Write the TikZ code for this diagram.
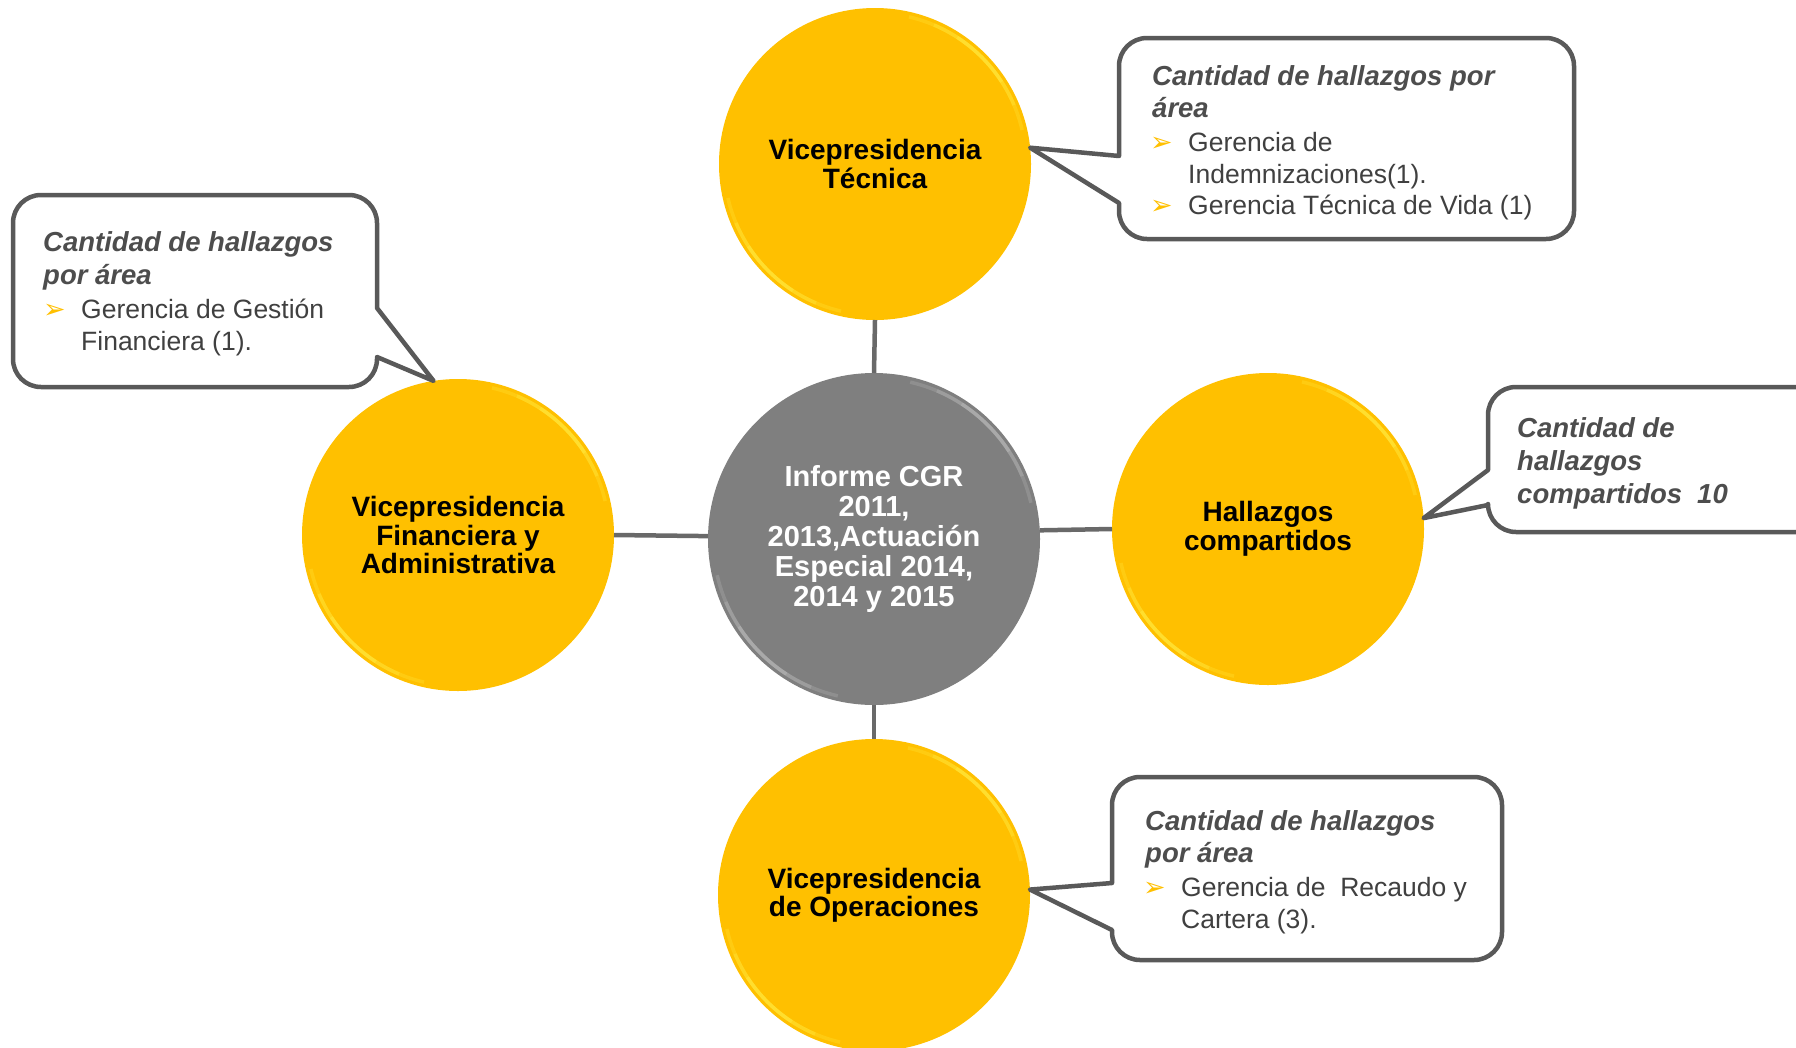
\documentclass[tikz,border=0pt]{standalone}
\usepackage{fontspec}
\setmainfont{Liberation Sans}
\newfontfamily\dejavu{DejaVu Sans}
\definecolor{yel}{RGB}{255,192,0}
\definecolor{yelrim}{RGB}{255,245,80}
\definecolor{grayc}{RGB}{127,127,127}
\definecolor{grayrim}{RGB}{200,200,200}
\definecolor{linec}{RGB}{105,105,105}
\definecolor{borderc}{RGB}{89,89,89}
\definecolor{headc}{RGB}{77,77,77}
\definecolor{itemc}{RGB}{64,64,64}
\newcommand{\rr}{28}
\newcommand{\kk}{12.5}
% pointer on the left side: x1,y1,x2,y2,joinA,joinB,tip
\newcommand{\bubbleleft}[7]{%
  \draw[bubble] (#1,#5) -- (#7) -- (#1,#6) -- (#1,{#4-\rr})
    .. controls (#1,{#4-\kk}) and ({#1+\kk},#4) .. ({#1+\rr},#4) -- ({#3-\rr},#4)
    .. controls ({#3-\kk},#4) and (#3,{#4-\kk}) .. (#3,{#4-\rr}) -- (#3,{#2+\rr})
    .. controls (#3,{#2+\kk}) and ({#3-\kk},#2) .. ({#3-\rr},#2) -- ({#1+\rr},#2)
    .. controls ({#1+\kk},#2) and (#1,{#2+\kk}) .. (#1,{#2+\rr}) -- cycle;}
% pointer on the right side
\newcommand{\bubbleright}[7]{%
  \draw[bubble] (#3,#5) -- (#7) -- (#3,#6) -- (#3,{#4-\rr})
    .. controls (#3,{#4-\kk}) and ({#3-\kk},#4) .. ({#3-\rr},#4) -- ({#1+\rr},#4)
    .. controls ({#1+\kk},#4) and (#1,{#4-\kk}) .. (#1,{#4-\rr}) -- (#1,{#2+\rr})
    .. controls (#1,{#2+\kk}) and ({#1+\kk},#2) .. ({#1+\rr},#2) -- ({#3-\rr},#2)
    .. controls ({#3-\kk},#2) and (#3,{#2+\kk}) .. (#3,{#2+\rr}) -- cycle;}
% soft rim highlight: node, mid angle, radius, colour
\newcommand{\softrim}[4]{%
  \foreach \w/\o in {32/0.22,22/0.25,12/0.3}{
    \draw[line width=3.5pt, draw=#4, opacity=\o]
      ([shift={({#2-\w}:#3pt)}]#1.center) arc[start angle={#2-\w}, end angle={#2+\w}, radius=#3pt];
  }}
\begin{document}
\begin{tikzpicture}[x=1pt,y=-1pt,
  bigc/.style={circle, inner sep=0pt, outer sep=0pt, minimum size=312pt, fill=yel,
    text=black, align=center, font=\fontsize{28}{28.5}\selectfont\bfseries},
  centc/.style={circle, inner sep=0pt, outer sep=0pt, minimum size=332pt, fill=grayc,
    text=white, align=center, font=\fontsize{29}{30}\selectfont\bfseries},
  conn/.style={draw=linec, line width=4.5pt},
  bubble/.style={draw=borderc, line width=4.5pt, fill=white, line join=round},
  head/.style={anchor=base west, inner sep=0pt, text=headc, font=\fontsize{27.5}{33}\selectfont\bfseries\itshape},
  item/.style={anchor=base west, inner sep=0pt, text=itemc, font=\fontsize{26.5}{33}\selectfont},
  bul/.style={anchor=base west, inner sep=0pt, text=yel, font=\dejavu\fontsize{27}{28}\selectfont}]
\useasboundingbox (0,0) rectangle (1796,1047);
\clip (0,0) rectangle (1796,1047);

% circles
\node[centc] (c) at (874,539) {Informe CGR\\2011,\\2013,Actuación\\Especial 2014,\\2014 y 2015};
\node[bigc] (vt) at (875,164) {Vicepresidencia\\Técnica};
\node[bigc] (vl) at (458,535) {Vicepresidencia\\Financiera y\\Administrativa};
\node[bigc] (vr) at (1268,529) {Hallazgos\\compartidos};
\node[bigc] (vb) at (874,895) {Vicepresidencia\\de Operaciones};

% rim highlights
\foreach \n in {vt,vl,vr,vb}{
  \softrim{\n}{45}{151}{yelrim}
  \softrim{\n}{225}{151}{yelrim}
}
\softrim{c}{45}{161}{grayrim}
\softrim{c}{225}{161}{grayrim}

% connectors
\draw[conn] (vt.south) -- (c.north);
\draw[conn] (vl.east) -- (c.179.3);
\draw[conn] (c.3) -- (vr.west);
\draw[conn] (c.south) -- (vb.north);

% callouts
\bubbleleft{1119}{38}{1574}{239}{156}{203}{vt.6}
\bubbleright{13}{195}{377}{387}{308}{357}{vl.99}
\bubbleleft{1488}{387}{1850}{532}{470}{505}{vr.4.5}
\bubbleleft{1112}{777}{1502}{960}{883}{930}{vb.2.6}

% top-right callout text
\node[head] (tr1) at (1152,85) {Cantidad de hallazgos por};
\node[head] (tr2) at (1152,117.5) {área};
\node[bul] (trb1) at (1150,151.5) {➢};
\node[item] (tr3) at (1188,151.5) {Gerencia de};
\node[item] (tr4) at (1188,183) {Indemnizaciones(1).};
\node[bul] (trb2) at (1150,214) {➢};
\node[item] (tr5) at (1188,214) {Gerencia Técnica de Vida (1)};

% left callout text
\node[head] (l1) at (43,251.5) {Cantidad de hallazgos};
\node[head] (l2) at (43,284.5) {por área};
\node[bul] (lb1) at (43,318) {➢};
\node[item] (l3) at (81,318) {Gerencia de Gestión};
\node[item] (l4) at (81,350) {Financiera (1).};

% right callout text
\node[head] (r1) at (1517,437) {Cantidad de};
\node[head] (r2) at (1517,470) {hallazgos};
\node[head] (r3) at (1517,503) {compartidos\hspace{15pt}10};

% bottom callout text
\node[head] (b1) at (1145,830) {Cantidad de hallazgos};
\node[head] (b2) at (1145,862) {por área};
\node[bul] (bb1) at (1143,896.5) {➢};
\node[item] (b3) at (1181,896.5) {Gerencia de\ \ Recaudo y};
\node[item] (b4) at (1181,928) {Cartera (3).};
\end{tikzpicture}
\end{document}
